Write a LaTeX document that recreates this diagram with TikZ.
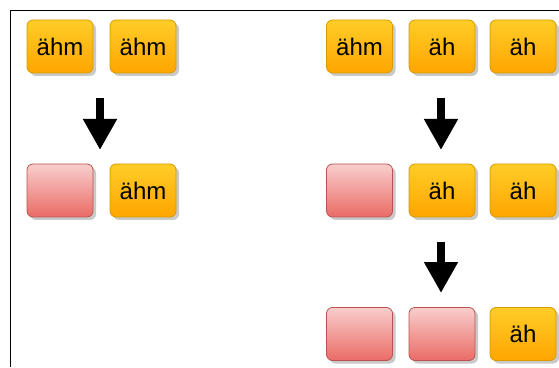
\documentclass[tikz,border=0pt]{standalone}
\usepackage{fontspec}
\setmainfont{Liberation Sans}
\usetikzlibrary{arrows.meta,shadows}
\tikzset{
  box/.style={rounded corners=6pt, minimum width=66pt, minimum height=53pt,
    inner sep=0pt, font=\fontsize{24}{27}\selectfont, line width=0.8pt,
    drop shadow={shadow xshift=3pt, shadow yshift=-3pt, opacity=0.3, fill=black!70}},
  obox/.style={box, draw=ocol, top color=otop, bottom color=obot},
  rbox/.style={box, draw=rcol, top color=rtop, bottom color=rbot},
  bigarrow/.style={line width=8pt, -{Triangle[width=32pt,length=31pt]}},
}
\definecolor{otop}{HTML}{FFCD28}
\definecolor{obot}{HTML}{FFA500}
\definecolor{ocol}{HTML}{D79B00}
\definecolor{rtop}{HTML}{F8CECC}
\definecolor{rbot}{HTML}{EA6B66}
\definecolor{rcol}{HTML}{B85450}
\begin{document}
\begin{tikzpicture}[x=1pt,y=1pt]
\useasboundingbox (0,0) rectangle (559,367);
\coordinate (fb) at (10,0);
\coordinate (fc) at (10,356);
\coordinate (fr) at (559,356);
\draw[line width=1pt] (fb) -- (fc) -- (fr);
% left column
\node[obox] (l11) at (60,320.5) {ähm};
\node[obox] (l12) at (143,320.5) {ähm};
\node[rbox] (l21) at (60,176.5) {};
\node[obox] (l22) at (143,176.5) {ähm};
\coordinate (la1s) at (100,269);
\coordinate (la1e) at (100,217);
\draw[bigarrow] (la1s) -- (la1e);
% right column
\node[obox] (r11) at (359.5,320.5) {ähm};
\node[obox] (r12) at (442,320.5) {äh};
\node[obox] (r13) at (523,320.5) {äh};
\node[rbox] (r21) at (359.5,176.5) {};
\node[obox] (r22) at (442,176.5) {äh};
\node[obox] (r23) at (523,176.5) {äh};
\node[rbox] (r31) at (359.5,33) {};
\node[rbox] (r32) at (442,33) {};
\node[obox] (r33) at (523,33) {äh};
\coordinate (ra1s) at (441,269);
\coordinate (ra1e) at (441,217);
\coordinate (ra2s) at (441,125);
\coordinate (ra2e) at (441,74);
\draw[bigarrow] (ra1s) -- (ra1e);
\draw[bigarrow] (ra2s) -- (ra2e);
\end{tikzpicture}
\end{document}
